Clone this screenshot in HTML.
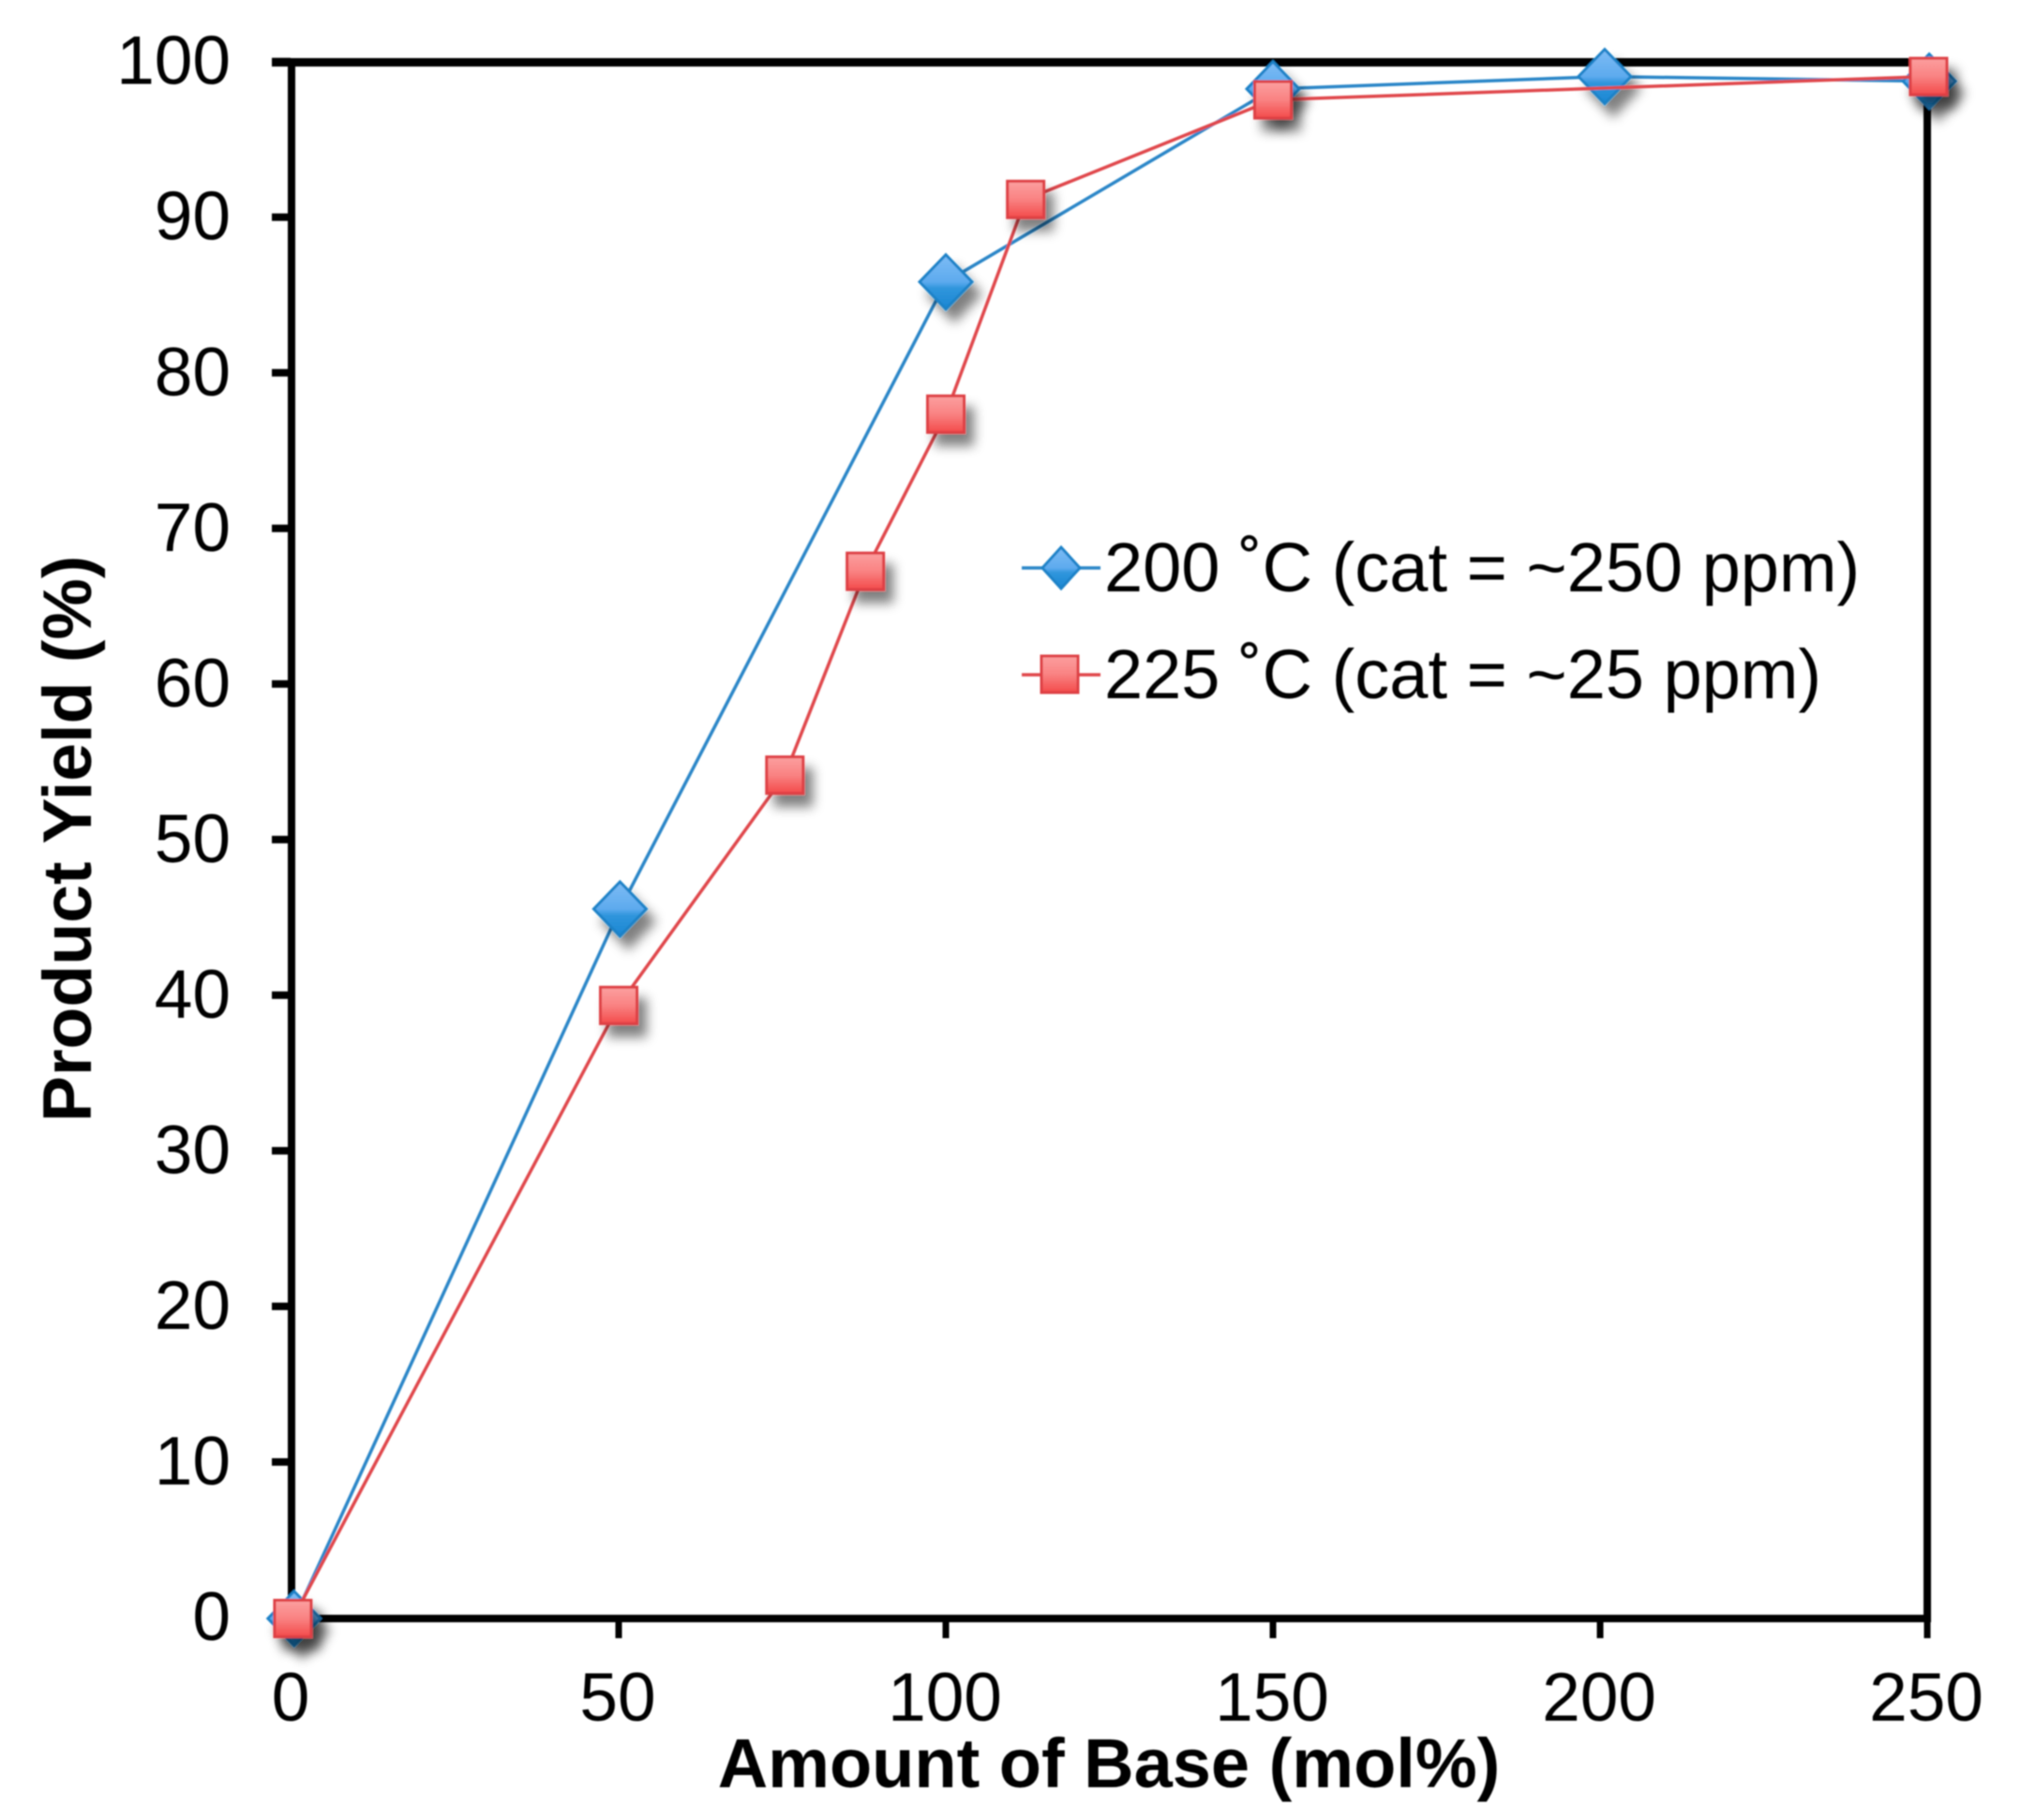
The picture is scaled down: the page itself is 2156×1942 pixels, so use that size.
<!DOCTYPE html>
<html lang="en">
<head>
<meta charset="utf-8">
<title>Product Yield vs Amount of Base</title>
<style>
html,body{margin:0;padding:0;background:#fff;}
svg{display:block;}
text{font-family:"Liberation Sans",sans-serif;fill:#000;}
</style>
</head>
<body>
<svg id="chart" xmlns="http://www.w3.org/2000/svg" width="2156" height="1942" viewBox="0 0 2156 1942">
  <defs>
    <linearGradient id="blueFill" x1="0" y1="0" x2="0" y2="1">
      <stop offset="0" stop-color="#7dbcf5"/>
      <stop offset="0.5" stop-color="#5daaee"/>
      <stop offset="0.62" stop-color="#2f95dc"/>
      <stop offset="1" stop-color="#1a86d2"/>
    </linearGradient>
    <linearGradient id="redFill" x1="0" y1="0" x2="0" y2="1">
      <stop offset="0" stop-color="#fb9f9f"/>
      <stop offset="0.5" stop-color="#f98282"/>
      <stop offset="1" stop-color="#f34a4a"/>
    </linearGradient>
    <filter id="shadow" x="-60%" y="-60%" width="240%" height="240%">
      <feGaussianBlur in="SourceAlpha" stdDeviation="6"/>
      <feOffset dx="9" dy="13"/>
      <feComponentTransfer><feFuncA type="linear" slope="0.5"/></feComponentTransfer>
      <feMerge><feMergeNode/><feMergeNode in="SourceGraphic"/></feMerge>
    </filter>
    <filter id="soft" x="-2%" y="-2%" width="104%" height="104%">
      <feGaussianBlur stdDeviation="0.9"/>
    </filter>
  </defs>
  <rect width="2156" height="1942" fill="#fff"/>
  <g id="root" filter="url(#soft)">
    <g id="axes"></g>
    <g id="ticklabels"></g>
    <text x="1183" y="1907" text-anchor="middle" font-size="74" font-weight="700" style="font-weight:700">Amount of Base (mol%)</text>
    <text transform="translate(97,895) rotate(-90)" text-anchor="middle" font-size="73.5" font-weight="700" style="font-weight:700">Product Yield (%)</text>
    <g id="series"></g>
    <g>
      <g>
        <line x1="1090" y1="606" x2="1174" y2="606" stroke="#2a86c8" stroke-width="3.5"/>
        <polygon points="1132,584 1152,606 1132,628 1112,606" fill="url(#blueFill)" stroke="#1f82c8" stroke-width="3"/>
        <text x="1178" y="631" font-size="74">200 ˚C (cat = ~250 ppm)</text>
      </g>
      <g>
        <line x1="1090" y1="720" x2="1174" y2="720" stroke="#e0474c" stroke-width="3.5"/>
        <rect x="1111" y="700" width="39" height="39" fill="url(#redFill)" stroke="#de4044" stroke-width="3"/>
        <text x="1178" y="745" font-size="74">225 ˚C (cat = ~25 ppm)</text>
      </g>
    </g>
  </g>
</svg>
<script>
var xTickValues = [0, 50, 100, 150, 200, 250];
var yTickValues = [0, 10, 20, 30, 40, 50, 60, 70, 80, 90, 100];
var blueX = [0.4, 50.2, 100, 150, 200.7, 250.3];
var blueY = [0, 45.6, 85.9, 98.3, 99.1, 98.8];
var redX = [0.2, 50, 75.4, 87.7, 100, 112.2, 150, 250.2];
var redY = [0, 39.4, 54.2, 67.3, 77.4, 91.2, 97.6, 99.1];

var NS = 'http://www.w3.org/2000/svg';
function xPos(v) { return 311 + (v / 250) * 1745; }
function yPos(v) { return 1727 - (v / 100) * 1660.3; }
function make(tag, parent, attrs) {
  var el = document.createElementNS(NS, tag);
  for (var k in attrs) el.setAttribute(k, attrs[k]);
  parent.appendChild(el);
  return el;
}
var axes = document.getElementById('axes');
var labels = document.getElementById('ticklabels');
var series = document.getElementById('series');

var el;
el = make('rect', axes, {x: 307, y: 62, width: 8, height: 1669, fill: '#000'});


el = make('rect', axes, {x: 2052, y: 62, width: 8, height: 1669, fill: '#000'});


el = make('rect', axes, {x: 290, y: 62, width: 1770, height: 9, fill: '#000'});


el = make('rect', axes, {x: 307, y: 1723, width: 1753, height: 8, fill: '#000'});



yTickValues.forEach(function (v) {
  var tick = make('rect', axes, {x: 290, y: yPos(v) - 5, width: 20, height: 8, fill: '#000'});
  
  
  var t = make('text', labels, {x: 246, y: yPos(v) + 23, 'text-anchor': 'end', 'font-size': 73});
  
  
  t.textContent = String(v);
});
xTickValues.forEach(function (v) {
  var tick = make('rect', axes, {x: xPos(v) - 3.5, y: 1725, width: 7, height: 23, fill: '#000'});
  
  
  var t = make('text', labels, {x: xPos(v) - 1, y: 1836, 'text-anchor': 'middle', 'font-size': 73});
  
  
  t.textContent = String(v);
});

function pointsOf(xs, ys) {
  return xs.map(function (x, i) { return xPos(x) + ',' + yPos(ys[i]); }).join(' ');
}

var blueLine = make('polyline', series, {points: pointsOf(blueX, blueY), fill: 'none', stroke: '#2a86c8', 'stroke-width': 3.5});


blueX.forEach(function (x, i) {
  var cx = xPos(x), cy = yPos(blueY[i]);
  var pts = [cx, cy - 29, cx + 28, cy, cx, cy + 29, cx - 28, cy].join(' ');
  var m = make('polygon', series, {points: pts, fill: 'url(#blueFill)', stroke: '#1f82c8', 'stroke-width': 3, filter: 'url(#shadow)'});
  
  
});

var redLine = make('polyline', series, {points: pointsOf(redX, redY), fill: 'none', stroke: '#e0474c', 'stroke-width': 3.5});


redX.forEach(function (x, i) {
  var cx = xPos(x), cy = yPos(redY[i]);
  var m = make('rect', series, {x: cx - 19.5, y: cy - 19.5, width: 39, height: 39, fill: 'url(#redFill)', stroke: '#de4044', 'stroke-width': 3, filter: 'url(#shadow)'});
  
  
});
</script>
</body>
</html>
